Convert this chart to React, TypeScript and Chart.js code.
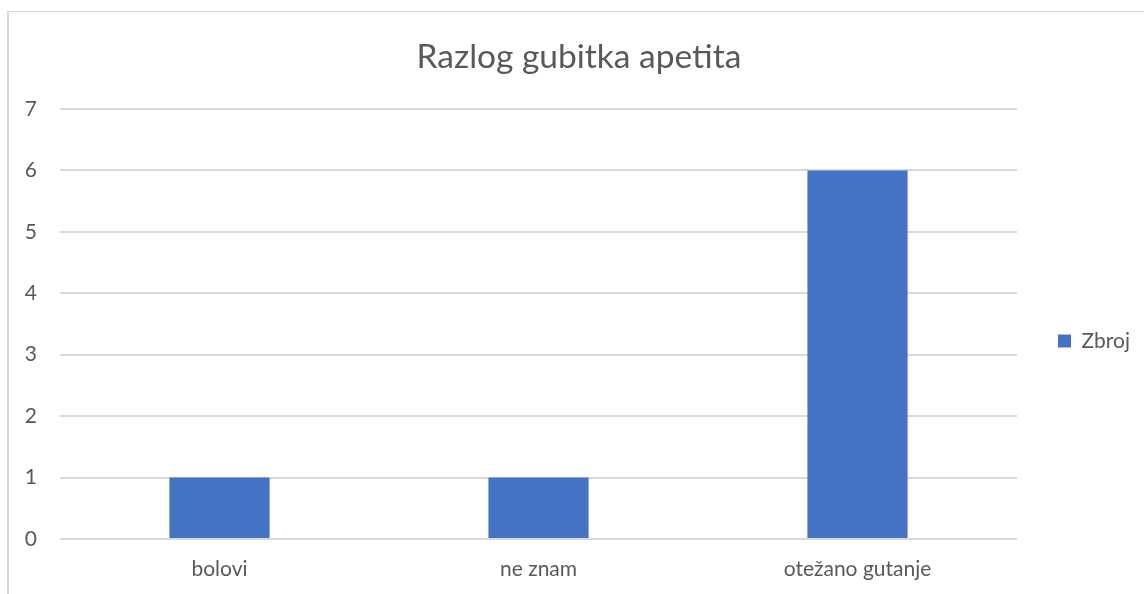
import React, { useEffect, useRef } from "react";
import { Chart, registerables } from "chart.js";

Chart.register(...registerables);

const categories = ["bolovi", "ne znam", "otežano gutanje"];
const seriesName = "Zbroj";
const seriesValues = [1, 1, 6];
const yTicks = [0, 1, 2, 3, 4, 5, 6, 7];
const chartTitle = "Razlog gubitka apetita";

const FONT = "Lato, 'Open Sans', sans-serif";
const TEXT = "#595959";
const GRID = "#d9d9d9";
const BAR = "#4472c4";

const frame = {
  id: "frame",
  beforeDraw(chart: any) {
    const ctx = chart.ctx;
    ctx.save();
    ctx.fillStyle = "#ffffff";
    ctx.fillRect(0, 0, chart.width, chart.height);
    ctx.fillStyle = GRID;
    ctx.fillRect(7, 11, 2, chart.height - 11);
    ctx.fillRect(7, 11, chart.width - 7, 1);
    ctx.restore();
  },
};

export default function App() {
  const ref = useRef<HTMLCanvasElement | null>(null);
  useEffect(() => {
    if (!ref.current) return;
    const chart = new Chart(ref.current, {
      type: "bar",
      data: {
        labels: categories,
        datasets: [
          {
            label: seriesName,
            data: seriesValues,
            backgroundColor: BAR,
            borderWidth: 0,
            categoryPercentage: 0.314,
            barPercentage: 1,
          },
        ],
      },
      options: {
        animation: false,
        responsive: false,
        maintainAspectRatio: false,
        layout: { padding: { left: 18, right: 4, top: 0, bottom: 0 } },
        plugins: {
          title: {
            display: true,
            text: chartTitle,
            color: TEXT,
            font: { family: FONT, size: 33.5, weight: "normal", lineHeight: 1.2 },
            padding: { top: 37, bottom: 31.8 },
          },
          legend: {
            display: true,
            position: "right",
            title: {
              display: true,
              text: "",
              font: { size: 12, lineHeight: 1.2 },
              padding: { top: 0, bottom: 73.6 },
            },
            labels: {
              boxWidth: 13,
              boxHeight: 13,
              padding: 41,
              color: TEXT,
              font: { family: FONT, size: 21 },
            },
          },
          tooltip: { enabled: false },
        },
        scales: {
          x: {
            grid: { display: false, drawTicks: false },
            border: { display: false },
            ticks: {
              color: TEXT,
              font: { family: FONT, size: 21 },
              padding: 18,
              maxRotation: 0,
            },
            afterFit(scale: any) {
              scale.height = 55;
            },
          },
          y: {
            min: yTicks[0],
            max: yTicks[yTicks.length - 1],
            grid: { color: GRID, lineWidth: 2, drawTicks: false },
            border: { display: false },
            ticks: {
              stepSize: 1,
              color: TEXT,
              font: { family: FONT, size: 21 },
              padding: 23,
              crossAlign: "near",
            },
            afterFit(scale: any) {
              scale.width = 42;
            },
          },
        },
      },
      plugins: [frame],
    });
    return () => chart.destroy();
  }, []);
  return (
    <div style={{ position: "absolute", left: 0, top: 0, width: 1144, height: 594 }}>
      <canvas ref={ref} width={1144} height={594} style={{ width: 1144, height: 594 }} />
    </div>
  );
}
